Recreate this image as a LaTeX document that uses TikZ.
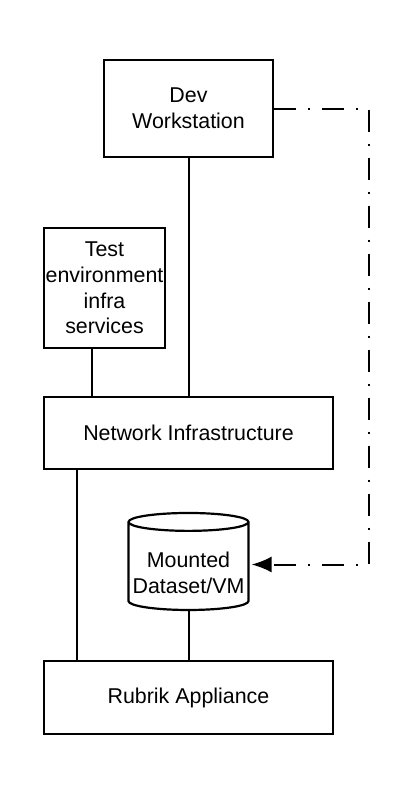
\documentclass[tikz,border=0pt]{standalone}
\usepackage{fontspec}
\setmainfont{Liberation Sans}
\usetikzlibrary{positioning}
\usetikzlibrary{arrows.meta,shapes.geometric}
\tikzstyle{block}=[rectangle,draw,line width=1.1pt,align=center,inner sep=0pt,font=\fontsize{10.7}{12.9}\selectfont]
\tikzstyle{store}=[cylinder,shape border rotate=90,aspect=0.16,draw,line width=1.1pt,align=center,inner sep=0pt,font=\fontsize{10.7}{13}\selectfont]
\tikzstyle{link} = [draw,line width=1pt]
\tikzstyle{mountlink} = [draw,line width=1pt,dash pattern=on 11pt off 6pt on 1pt off 6pt,-{Latex[length=10pt,width=8pt]}]

\begin{document}
\begin{tikzpicture}[x=0.5pt,y=-0.5pt]

    \useasboundingbox (0,0) rectangle (400,794);
    \foreach \pos/\name/\bw/\bh/\txt in {{(188.5,108.5)/dev/84.5pt/48.5pt/{Dev\\Workstation}},
        {(104.5,288)/test/60.5pt/60pt/{Test\\environment\\infra\\services}},
        {(188.5,433)/net/144.5pt/36pt/{Network Infrastructure}},
        {(188.5,697.5)/rub/144.5pt/36.5pt/{Rubrik Appliance}}}
        \node[block,minimum width=\bw,minimum height=\bh] (\name) at \pos {\txt};

    \node[store,minimum width=60pt,minimum height=48.5pt] (cyl) at (188.5,566.5) {\rule{0pt}{13.8pt}Mounted\\Dataset/VM};

    \path[link] (dev) -- (net);
    \path[link] ([xshift=-6.25pt]test.south) -- ([xshift=-6.25pt]test.south |- net.north);
    \path[link] ([xshift=17pt]net.south west) -- ([xshift=17pt]rub.north west);
    \path[link] (cyl) -- (rub);

    \coordinate (side) at (369,0);
    \path[mountlink] (dev.east) -- (dev.east -| side) |- ([xshift=1pt,yshift=1pt]cyl.east);

\end{tikzpicture}
\end{document}
